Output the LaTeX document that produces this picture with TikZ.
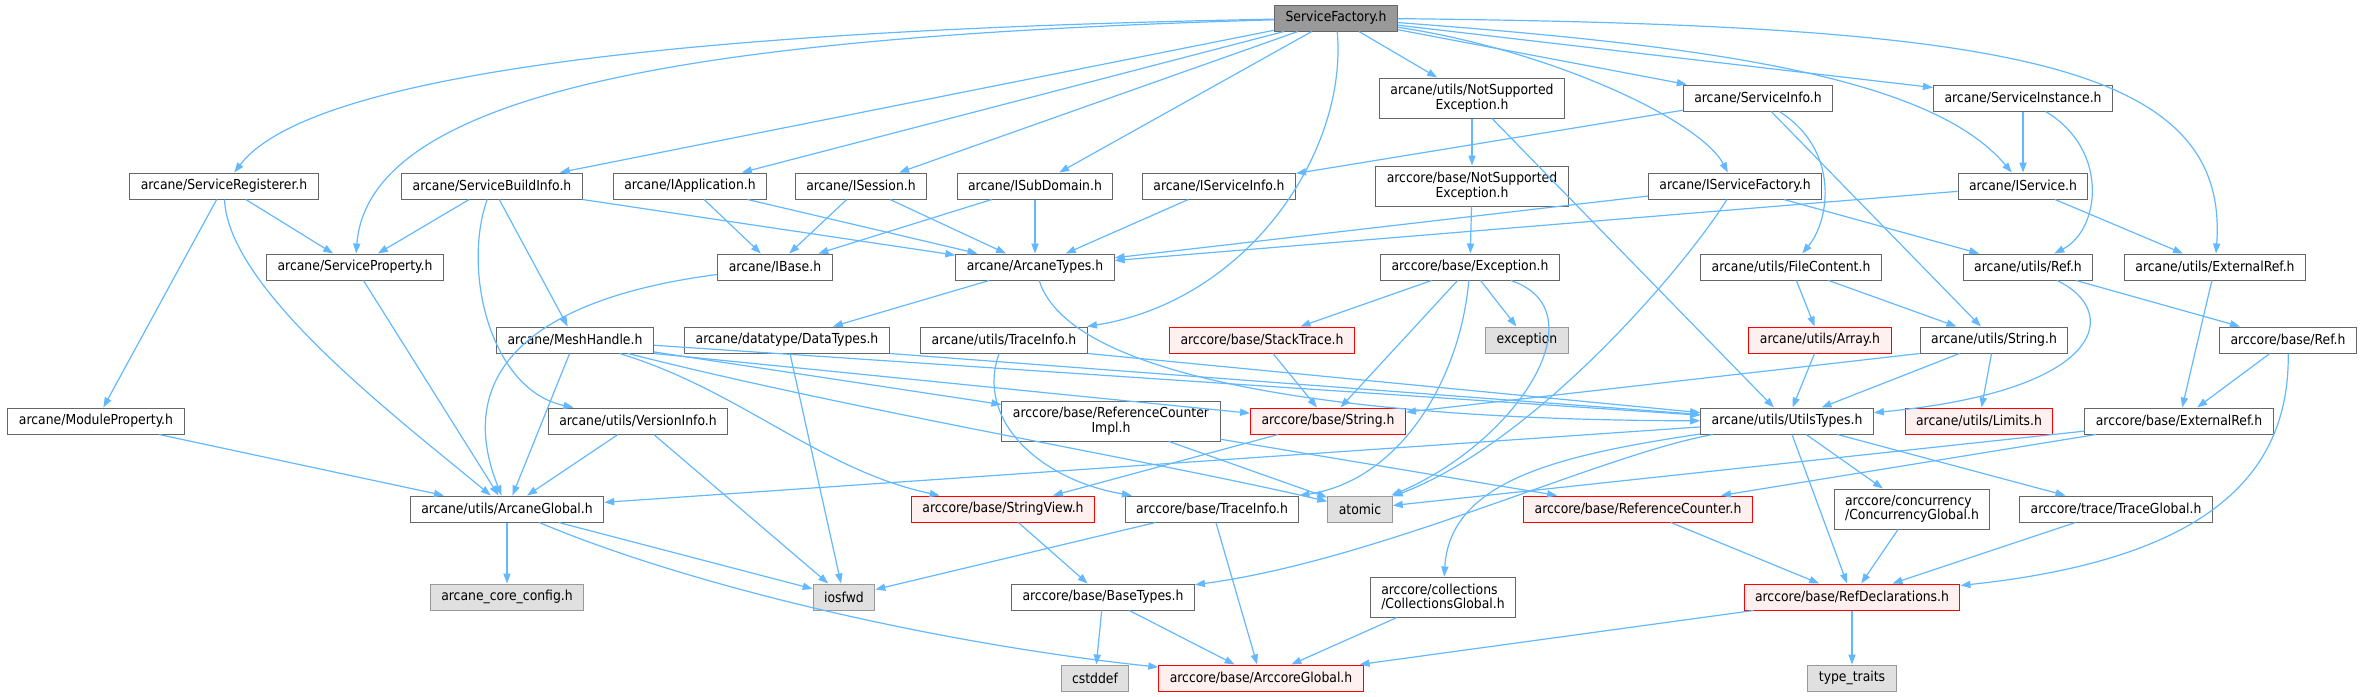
\documentclass[tikz,border=0pt]{standalone}
\usepackage{fontspec}
\IfFontExistsTF{DejaVu Sans Condensed}
  {\setmainfont{DejaVu Sans Condensed}}
  {\setmainfont{DejaVu Sans}[FakeStretch=0.9]}
\usetikzlibrary{arrows.meta}
\definecolor{edgeblue}{HTML}{63B8FF}
\definecolor{boxgray}{HTML}{666666}
\definecolor{rootfill}{HTML}{999999}
\definecolor{extfill}{HTML}{E0E0E0}
\definecolor{extline}{HTML}{999999}
\definecolor{redfill}{HTML}{FFF0F0}

\begin{document}
\begin{tikzpicture}[x=0.5pt, y=0.5pt,
  >={Triangle[length=5pt, width=3.6pt]},
  file/.style={draw=boxgray, fill=white, line width=0.5pt, inner xsep=5.5pt,
    inner ysep=1pt, minimum height=13pt, font=\fontsize{6.9}{7.3}\selectfont},
  twoline/.style={file, minimum height=20pt},
  rootfile/.style={file, fill=rootfill},
  trunc/.style={file, draw=red, fill=redfill},
  sysfile/.style={file, draw=extline, fill=extfill},
  dep/.style={draw=edgeblue, ->, line width=0.6pt}
]
  \useasboundingbox (0,0) rectangle (2365,-696);

  \node[rootfile] (root) at (1336,-18) {ServiceFactory.h};

  \node[file] (sreg) at (224,-186) {arcane/ServiceRegisterer.h};
  \node[file] (sbuild) at (492,-186) {arcane/ServiceBuildInfo.h};
  \node[file] (iapp) at (690,-186) {arcane/IApplication.h};
  \node[file] (isess) at (861,-186) {arcane/ISession.h};
  \node[file] (isub) at (1035,-186) {arcane/ISubDomain.h};
  \node[file] (isinfo) at (1219,-186) {arcane/IServiceInfo.h};
  \node[twoline, align=center] (nseu) at (1472,-98) {arcane/utils/NotSupported\\Exception.h};
  \node[twoline, align=center] (nseb) at (1472,-186) {arccore/base/NotSupported\\Exception.h};
  \node[file] (sinfo) at (1758,-98) {arcane/ServiceInfo.h};
  \node[file] (sinst) at (2023,-98) {arcane/ServiceInstance.h};
  \node[file] (isfact) at (1735,-186) {arcane/IServiceFactory.h};
  \node[file] (iserv) at (2023,-186) {arcane/IService.h};

  \node[file] (sprop) at (355,-267) {arcane/ServiceProperty.h};
  \node[file] (ibase) at (775,-267) {arcane/IBase.h};
  \node[file] (atypes) at (1035,-267) {arcane/ArcaneTypes.h};
  \node[file] (exc) at (1470,-267) {arccore/base/Exception.h};
  \node[file] (fcont) at (1791,-267) {arcane/utils/FileContent.h};
  \node[file] (uref) at (2028,-267) {arcane/utils/Ref.h};
  \node[file] (uext) at (2215,-267) {arcane/utils/ExternalRef.h};

  \node[file] (mesh) at (575,-340) {arcane/MeshHandle.h};
  \node[file] (dtypes) at (787,-340) {arcane/datatype/DataTypes.h};
  \node[file] (utrace) at (1004,-340) {arcane/utils/TraceInfo.h};
  \node[trunc] (stack) at (1262,-340) {arccore/base/StackTrace.h};
  \node[sysfile] (excstd) at (1527,-340) {exception};
  \node[trunc] (array) at (1820,-340) {arcane/utils/Array.h};
  \node[file] (ustr) at (1994,-340) {arcane/utils/String.h};
  \node[file] (bref) at (2288,-340) {arccore/base/Ref.h};

  \node[file] (modprop) at (96,-421) {arcane/ModuleProperty.h};
  \node[file] (version) at (638,-421) {arcane/utils/VersionInfo.h};
  \node[twoline, align=center] (rcimpl) at (1111,-421) {arccore/base/ReferenceCounter\\Impl.h};
  \node[trunc] (bstr) at (1328,-421) {arccore/base/String.h};
  \node[file] (utypes) at (1787,-421) {arcane/utils/UtilsTypes.h};
  \node[trunc] (limits) at (1979,-421) {arcane/utils/Limits.h};
  \node[file] (bext) at (2179,-421) {arccore/base/ExternalRef.h};

  \node[file] (aglobal) at (507,-509) {arcane/utils/ArcaneGlobal.h};
  \node[trunc] (sview) at (1003,-509) {arccore/base/StringView.h};
  \node[file] (btrace) at (1212,-509) {arccore/base/TraceInfo.h};
  \node[sysfile] (atomic) at (1360,-509) {atomic};
  \node[trunc] (refcnt) at (1638,-509) {arccore/base/ReferenceCounter.h};
  \node[twoline, align=left] (concur) at (1912,-509) {arccore/concurrency\\/ConcurrencyGlobal.h};
  \node[file] (tglobal) at (2116,-509) {arccore/trace/TraceGlobal.h};

  \node[sysfile] (config) at (507,-597) {arcane\_core\_config.h};
  \node[sysfile] (iosfwd) at (844,-597) {iosfwd};
  \node[file] (btypes) at (1103,-597) {arccore/base/BaseTypes.h};
  \node[twoline, align=left] (coll) at (1443,-597) {arccore/collections\\/CollectionsGlobal.h};
  \node[trunc] (refdecl) at (1852,-597) {arccore/base/RefDeclarations.h};

  \node[sysfile] (cstddef) at (1095,-678) {cstddef};
  \node[trunc] (acglobal) at (1261,-678) {arccore/base/ArccoreGlobal.h};
  \node[sysfile] (traits) at (1852,-678) {type\_traits};

  % ServiceFactory.h
  \path[dep] (root) .. controls (800,-28) and (320,-60) .. (sreg);
  \path[dep] (root) .. controls (750,-35) and (370,-80) .. (sprop);
  \path[dep] (root) -- (sbuild);
  \path[dep] (root) -- (iapp);
  \path[dep] (root) -- (isess);
  \path[dep] (root) -- (isub);
  \path[dep] (root) .. controls (1348,-150) and (1250,-300) .. (utrace);
  \path[dep] (root) -- (nseu);
  \path[dep] (root) -- (sinfo);
  \path[dep] (root) .. controls (1550,-50) and (1700,-120) .. (isfact);
  \path[dep] (root) -- (sinst);
  \path[dep] (root) .. controls (1700,-45) and (1930,-75) .. (iserv);
  \path[dep] (root) .. controls (2000,-25) and (2230,-60) .. (uext);

  % second row
  \path[dep] (sreg) -- (sprop);
  \path[dep] (sreg) -- (modprop);
  \path[dep] (sreg) .. controls (228,-290) and (400,-420) .. (aglobal);
  \path[dep] (sbuild) -- (sprop);
  \path[dep] (sbuild) -- (atypes);
  \path[dep] (sbuild) -- (mesh);
  \path[dep] (sbuild) .. controls (462,-270) and (490,-390) .. (version);
  \path[dep] (iapp) -- (ibase);
  \path[dep] (iapp) -- (atypes);
  \path[dep] (isess) -- (ibase);
  \path[dep] (isess) -- (atypes);
  \path[dep] (isub) -- (ibase);
  \path[dep] (isub) -- (atypes);
  \path[dep] (isinfo) -- (atypes);
  \path[dep] (nseu) -- (nseb);
  \path[dep] (nseu) -- (utypes);
  \path[dep] (nseb) -- (exc);
  \path[dep] (sinfo) -- (isinfo);
  \path[dep] (sinfo) .. controls (1840,-150) and (1830,-220) .. (fcont);
  \path[dep] (sinfo) -- (ustr);
  \path[dep] (sinst) -- (iserv);
  \path[dep] (sinst) .. controls (2110,-150) and (2100,-230) .. (uref);
  \path[dep] (isfact) -- (atypes);
  \path[dep] (isfact) -- (uref);
  \path[dep] (isfact) .. controls (1690,-260) and (1540,-440) .. (atomic);
  \path[dep] (iserv) -- (atypes);
  \path[dep] (iserv) -- (uext);

  % third row
  \path[dep] (sprop) -- (aglobal);
  \path[dep] (ibase) .. controls (520,-300) and (455,-380) .. (aglobal);
  \path[dep] (atypes) -- (dtypes);
  \path[dep] (atypes) .. controls (1070,-380) and (1350,-420) .. (utypes);
  \path[dep] (exc) -- (stack);
  \path[dep] (exc) -- (bstr);
  \path[dep] (exc) -- (excstd);
  \path[dep] (exc) .. controls (1600,-310) and (1520,-440) .. (atomic);
  \path[dep] (exc) .. controls (1460,-380) and (1400,-480) .. (btrace);
  \path[dep] (fcont) -- (array);
  \path[dep] (fcont) -- (ustr);
  \path[dep] (uref) .. controls (2120,-310) and (2110,-390) .. (utypes);
  \path[dep] (uref) -- (bref);
  \path[dep] (uext) -- (bext);

  % fourth row
  \path[dep] (mesh) -- (aglobal);
  \path[dep] (mesh) -- (rcimpl);
  \path[dep] (mesh.south east) -- (bstr);
  \path[dep] (mesh) .. controls (740,-390) and (820,-470) .. (sview);
  \path[dep] (mesh) .. controls (850,-410) and (1150,-460) .. (atomic);
  \path[dep] (mesh) -- (utypes);
  \path[dep] (dtypes) -- (iosfwd);
  \path[dep] (dtypes.south east) -- (utypes);
  \path[dep] (utrace) .. controls (975,-420) and (1040,-480) .. (btrace);
  \path[dep] (utrace.south east) -- (utypes);
  \path[dep] (stack) -- (bstr);
  \path[dep] (array) -- (utypes);
  \path[dep] (ustr) -- (utypes);
  \path[dep] (ustr) -- (limits);
  \path[dep] (ustr.south west) -- (bstr);
  \path[dep] (bref) -- (bext);
  \path[dep] (bref) .. controls (2290,-480) and (2200,-560) .. (refdecl);

  % fifth row
  \path[dep] (modprop) -- (aglobal);
  \path[dep] (version) -- (aglobal);
  \path[dep] (version) -- (iosfwd);
  \path[dep] (rcimpl) -- (atomic);
  \path[dep] (rcimpl) -- (refcnt);
  \path[dep] (bstr) -- (sview);
  \path[dep] (utypes) -- (aglobal);
  \path[dep] (utypes) .. controls (1600,-455) and (1380,-560) .. (btypes);
  \path[dep] (utypes) .. controls (1560,-455) and (1450,-480) .. (coll);
  \path[dep] (utypes) -- (refdecl);
  \path[dep] (utypes) -- (concur);
  \path[dep] (utypes) -- (tglobal);
  \path[dep] (bext) -- (atomic);
  \path[dep] (bext) -- (refcnt);

  % bottom rows
  \path[dep] (aglobal) -- (config);
  \path[dep] (aglobal) -- (iosfwd);
  \path[dep] (aglobal) .. controls (700,-590) and (950,-645) .. (acglobal);
  \path[dep] (sview) -- (btypes);
  \path[dep] (btrace) -- (iosfwd);
  \path[dep] (btrace) -- (acglobal);
  \path[dep] (refcnt) -- (refdecl);
  \path[dep] (concur) -- (refdecl);
  \path[dep] (tglobal) -- (refdecl);
  \path[dep] (btypes) -- (cstddef);
  \path[dep] (btypes) -- (acglobal);
  \path[dep] (coll) -- (acglobal);
  \path[dep] (refdecl) -- (acglobal);
  \path[dep] (refdecl) -- (traits);
\end{tikzpicture}
\end{document}
